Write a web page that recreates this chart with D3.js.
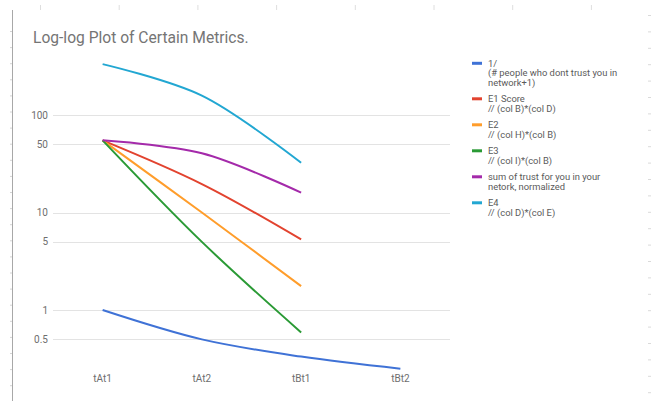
<!DOCTYPE html>
<html>
<head>
<meta charset="utf-8">
<script src="https://cdn.jsdelivr.net/npm/d3@7"></script>
<style>
  html, body { margin: 0; padding: 0; background: #fff; }
  svg { display: block; font-family: Roboto, "Noto Sans", Arial, sans-serif; }
</style>
</head>
<body>
<svg id="chart" width="656" height="401"></svg>
<script>
// Categories along the x axis
const categories = ["tAt1", "tAt2", "tBt1", "tBt2"];

// Series values (null = no data point)
const invDistrust = [1, 0.5, 0.333, 0.25];
const e1Score     = [55, 19.6, 5.3, null];
const e2Values    = [55, 10, 1.76, null];
const e3Values    = [55, 5.0, 0.59, null];
const trustSum    = [55, 40.5, 16.0, null];
const e4Values    = [333, 158, 32.4, null];

// Legend labels (each entry may span several lines)
const seriesLabels = [
  ["1/", "(# people who dont trust you in", "network+1)"],
  ["E1 Score", "// (col B)*(col D)"],
  ["E2", "// (col H)*(col B)"],
  ["E3", "// (col I)*(col B)"],
  ["sum of trust for you in your", "netork, normalized"],
  ["E4", "// (col D)*(col E)"]
];
const seriesColors = ["#3f72d6", "#e2432f", "#ff9d2b", "#2a9a35", "#a42aaa", "#22a7d2"];
const seriesValues = [invDistrust, e1Score, e2Values, e3Values, trustSum, e4Values];

// Y axis tick values
const yTicks = [0.5, 1, 5, 10, 50, 100];

const svg = d3.select("#chart");

// Sheet-style frame: left border line with row markers, column markers on top, right edge markers
const frame = svg.append("g");
frame.append("line").attr("x1", 12.5).attr("x2", 12.5).attr("y1", 10).attr("y2", 401)
  .attr("stroke", "#a8a8a8").attr("stroke-width", 1);
d3.range(0, 24).forEach(i => {
  frame.append("line").attr("x1", 10).attr("x2", 12)
    .attr("y1", 31.5 + i * 16.1).attr("y2", 31.5 + i * 16.1)
    .attr("stroke", "#d4d4d4").attr("stroke-width", 1);
  frame.append("line").attr("x1", 648).attr("x2", 651)
    .attr("y1", 15.5 + i * 16.4).attr("y2", 15.5 + i * 16.4)
    .attr("stroke", "#dadada").attr("stroke-width", 1);
});
d3.range(0, 8).forEach(i => {
  frame.append("line").attr("x1", 40.5 + i * 78.7).attr("x2", 40.5 + i * 78.7)
    .attr("y1", 5).attr("y2", 10)
    .attr("stroke", "#dedede").attr("stroke-width", 1);
});

// Scales
const x = d3.scaleBand().domain(categories).range([53, 450]).padding(0);
const y = d3.scaleLog().domain([0.2, 500]).range([378.2, 46.9]);
const cx = c => x(c) + x.bandwidth() / 2;

// Title
svg.append("text").attr("x", 33).attr("y", 43)
  .attr("font-size", 15.6).attr("fill", "#757575")
  .text("Log-log Plot of Certain Metrics.");

// Gridlines
svg.append("g").selectAll("line").data(yTicks).join("line")
  .attr("x1", 53).attr("x2", 450)
  .attr("y1", d => Math.round(y(d)) + 0.5).attr("y2", d => Math.round(y(d)) + 0.5)
  .attr("stroke", "#e3e3e3").attr("stroke-width", 1);

// Y axis labels
svg.append("g").selectAll("text").data(yTicks).join("text")
  .attr("x", 48).attr("y", d => y(d) + 3.5)
  .attr("text-anchor", "end").attr("font-size", 10).attr("fill", "#6e6e6e")
  .text(d => d3.format("")(d));

// X axis labels
svg.append("g").selectAll("text").data(categories).join("text")
  .attr("x", d => cx(d)).attr("y", 382)
  .attr("text-anchor", "middle").attr("font-size", 10).attr("fill", "#6e6e6e")
  .text(d => d);

// Series lines
const line = d3.line()
  .defined(d => d.v != null)
  .x(d => cx(d.c))
  .y(d => y(d.v))
  .curve(d3.curveCatmullRom.alpha(0.5));

svg.append("g").selectAll("path").data(seriesValues).join("path")
  .attr("d", vals => line(categories.map((c, i) => ({ c, v: vals[i] }))))
  .attr("fill", "none")
  .attr("stroke", (d, i) => seriesColors[i])
  .attr("stroke-width", 2)
  .attr("stroke-linejoin", "round");

// Legend
const legend = svg.append("g");
let ly = 63.3;
seriesLabels.forEach((lines, i) => {
  legend.append("line").attr("x1", 472).attr("x2", 482)
    .attr("y1", ly).attr("y2", ly)
    .attr("stroke", seriesColors[i]).attr("stroke-width", 3);
  lines.forEach((t, j) => {
    legend.append("text").attr("x", 488).attr("y", ly + 3.4 + j * 9.5)
      .attr("font-size", 9.4).attr("fill", "#5a5a5a")
      .text(t);
  });
  ly += lines.length * 9.5 + 7;
});
</script>
</body>
</html>
